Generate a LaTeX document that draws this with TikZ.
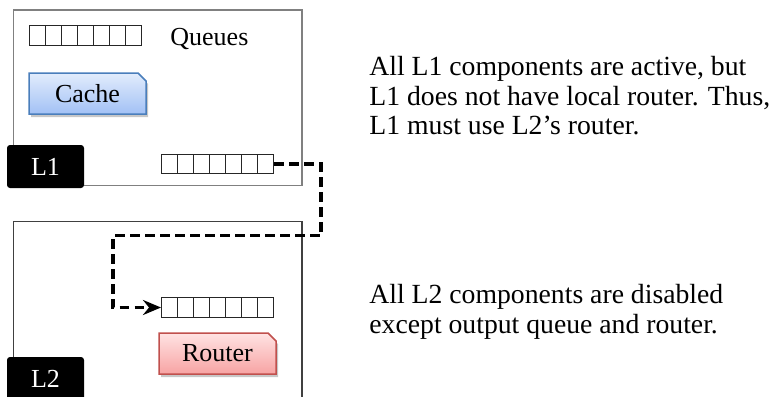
\documentclass[tikz,border=0pt]{standalone}
\usepackage{fontspec}
\setmainfont{Liberation Serif}
\usetikzlibrary{calc,arrows.meta,shapes.misc,shadows}
\definecolor{cacheTop}{HTML}{E2ECFC}
\definecolor{cacheBot}{HTML}{A2C1F5}
\definecolor{cacheLine}{HTML}{4A7EBB}
\definecolor{routerTop}{HTML}{FFE3E3}
\definecolor{routerBot}{HTML}{F7A3A3}
\definecolor{routerLine}{HTML}{C0504D}
\definecolor{lonegray}{HTML}{808080}
\definecolor{ltwogray}{HTML}{404040}
\tikzset{
  regionbox/.style={draw, inner sep=0pt, minimum width=144.25pt},
  lvlabel/.style={fill=black, text=white, rounded corners=1.5pt, minimum width=38.5pt,
    minimum height=21.5pt, inner sep=0pt, font=\fontsize{13}{15}\selectfont},
  queue/.style={draw=black!85, line width=0.5pt, minimum width=56pt, minimum height=9.75pt,
    inner sep=0pt,
    path picture={\foreach \i in {1,...,6}{\draw[black!85, line width=0.5pt]
      ($(path picture bounding box.north west)!\i/7!(path picture bounding box.north east)$) --
      ($(path picture bounding box.south west)!\i/7!(path picture bounding box.south east)$);}}},
  snipbox/.style={chamfered rectangle, chamfered rectangle corners=north east,
    chamfered rectangle xsep=2pt, chamfered rectangle ysep=2pt,
    minimum width=58.5pt, minimum height=20.5pt, inner sep=0pt, line width=0.75pt,
    font=\fontsize{13}{15}\selectfont,
    drop shadow={shadow xshift=1pt, shadow yshift=-1.5pt, fill=black!40, opacity=0.55}},
  cachebox/.style={snipbox, draw=cacheLine, top color=cacheTop, bottom color=cacheBot},
  routerbox/.style={snipbox, draw=routerLine, top color=routerTop, bottom color=routerBot},
  note/.style={inner sep=0pt, align=left, anchor=north west, font=\fontsize{13.85}{14.75}\selectfont},
  plainlabel/.style={inner sep=0pt, font=\fontsize{13}{15}\selectfont},
  link/.style={line width=1.6pt, dash pattern=on 4.75pt off 2.75pt,
    -{Stealth[length=9pt, width=7.5pt, inset=3pt]}}
}
\begin{document}
\begin{tikzpicture}[x=0.5pt, y=-0.5pt]
  \useasboundingbox (0,0) rectangle (774,396);
  \clip (0,0) rectangle (774,396);
  % level boxes
  \node[regionbox, draw=lonegray, line width=0.75pt, minimum height=87.75pt] (L1box) at (157.75,97.75) {};
  \node[regionbox, draw=ltwogray, line width=0.55pt, minimum height=104.25pt] (L2box) at (157.75,325.75) {};
  % level labels
  \node[lvlabel] (L1lab) at (45.5,166.5) {L1};
  \node[lvlabel] (L2lab) at (45.5,378.5) {L2};
  % queues
  \node[queue] (qA) at (85.5,35.5) {};
  \node[plainlabel, anchor=base west] (qAlab) at (170,45) {Queues};
  \node[queue] (qB) at (217.5,164) {};
  \node[queue] (qC) at (217.5,307.5) {};
  % components
  \node[cachebox] (cache) at (87.5,93.5) {Cache};
  \node[routerbox] (router) at (217.5,353.5) {Router};
  % connector
  \coordinate (turnA) at (321,235.5);
  \coordinate (turnB) at (113,235.5);
  \draw[link] (qB.east) -| (turnA) -- (turnB) |- (qC.west);
  % notes
  \node[note] (noteA) at (369,56) {All L1 components are active, but\\L1 does not have local router. Thus,\\L1 must use L2's router.};
  \node[note] (noteB) at (369,284) {All L2 components are disabled\\except output queue and router.};
\end{tikzpicture}
\end{document}
